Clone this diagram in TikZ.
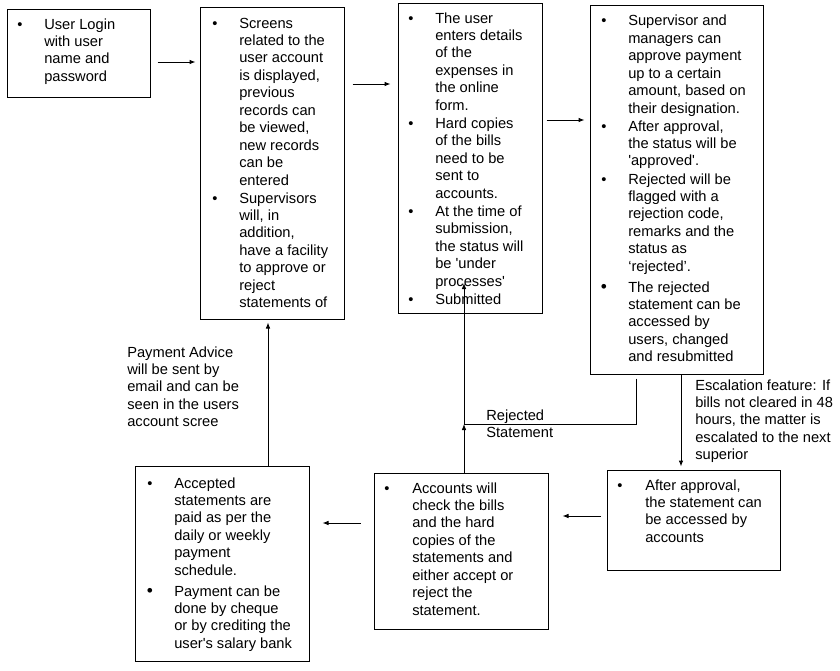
\documentclass[tikz,border=0pt]{standalone}
\usepackage{fontspec}
\setmainfont{Liberation Sans}
\usetikzlibrary{fit,arrows.meta}
\newcommand{\lns}[1]{\begin{tabular}[t]{@{}l@{}}#1\end{tabular}}
\begin{document}
\begin{tikzpicture}[x=0.75pt,y=-0.75pt,
  box/.style={draw, line width=0.75pt, inner sep=0pt},
  txt/.style={anchor=base west, inner sep=0pt, font=\fontsize{11}{13.1}\selectfont},
  bul/.style={anchor=base, inner sep=0pt, font=\fontsize{11}{13.1}\selectfont},
  bigbul/.style={anchor=base, inner sep=0pt, font=\fontsize{13}{13.1}\selectfont},
  arr/.style={line width=0.75pt, -{Latex[length=4.5pt,width=3.5pt]}}]
\useasboundingbox (0,0) rectangle (840,671);
\fill[white] (0,0) rectangle (840,671);

% boxes
\node[box, fit={(7,9)(150,97)}] (b1) {};
\node[box, fit={(200,7)(344,319)}] (b2) {};
\node[box, fit={(398,3)(542,313)}] (b3) {};
\node[box, fit={(590,5)(763,374)}] (b4) {};
\node[box, fit={(607,470)(780,570)}] (b5) {};
\node[box, fit={(374,473)(548,629)}] (b6) {};
\node[box, fit={(135,466)(309,661)}] (b7) {};

% box 1
\node[bul] (b1u1) at (20,29) {•};
\node[txt] (b1t1) at (44,29) {\lns{User Login\\with user\\name and\\password}};

% box 2
\node[bul] (b2u1) at (215,28) {•};
\node[txt] (b2t1) at (239,28) {\lns{Screens\\related to the\\user account\\is displayed,\\previous\\records can\\be viewed,\\new records\\can be\\entered}};
\node[bul] (b2u2) at (215,203) {•};
\node[txt] (b2t2) at (239,203) {\lns{Supervisors\\will, in\\addition,\\have a facility\\to approve or\\reject\\statements of}};

% box 3
\node[bul] (b3u1) at (411,23) {•};
\node[txt] (b3t1) at (435,23) {\lns{The user\\enters details\\of the\\expenses in\\the online\\form.}};
\node[bul] (b3u2) at (411,128.5) {•};
\node[txt] (b3t2) at (435,128.5) {\lns{Hard copies\\of the bills\\need to be\\sent to\\accounts.}};
\node[bul] (b3u3) at (411,216.5) {•};
\node[txt] (b3t3) at (435,216.5) {\lns{At the time of\\submission,\\the status will\\be \textquotesingle under\\processes\textquotesingle}};
\node[bul] (b3u4) at (411,304.5) {•};
\node[txt] (b3t4) at (435,304.5) {Submitted};

% box 4
\node[bul] (b4u1) at (604,26) {•};
\node[txt] (b4t1) at (628,26) {\lns{Supervisor and\\managers can\\approve payment\\up to a certain\\amount, based on\\their designation.}};
\node[bul] (b4u2) at (604,131) {•};
\node[txt] (b4t2) at (628,131) {\lns{After approval,\\the status will be\\\textquotesingle approved\textquotesingle.}};
\node[bul] (b4u3) at (604,184) {•};
\node[txt] (b4t3) at (628,184) {\lns{Rejected will be\\flagged with a\\rejection code,\\remarks and the\\status as\\‘rejected’.}};
\node[bigbul] (b4u4) at (604,292) {•};
\node[txt] (b4t4) at (628,292) {\lns{The rejected\\statement can be\\accessed by\\users, changed\\and resubmitted}};

% box 5
\node[bul] (b5u1) at (620,490) {•};
\node[txt] (b5t1) at (645,490) {\lns{After approval,\\the statement can\\be accessed by\\accounts}};

% box 6
\node[bul] (b6u1) at (387,493) {•};
\node[txt] (b6t1) at (412,493) {\lns{Accounts will\\check the bills\\and the hard\\copies of the\\statements and\\either accept or\\reject the\\statement.}};

% box 7
\node[bul] (b7u1) at (150,488) {•};
\node[txt] (b7t1) at (174,488) {\lns{Accepted\\statements are\\paid as per the\\daily or weekly\\payment\\schedule.}};
\node[bigbul] (b7u2) at (150,596) {•};
\node[txt] (b7t2) at (174,596) {\lns{Payment can be\\done by cheque\\or by crediting the\\user\textquotesingle s salary bank}};

% free labels
\node[txt] (lpay) at (127,357) {\lns{Payment Advice\\will be sent by\\email and can be\\seen in the users\\account scree}};
\node[txt] (lrej) at (486,420) {\lns{Rejected\\Statement}};
\node[txt] (lesc) at (695,390) {\lns{Escalation feature: If\\bills not cleared in 48\\hours, the matter is\\escalated to the next\\superior}};

% connectors
\draw[arr, shorten <=5.25pt, shorten >=3pt] (b1.east |- 0,62) -- (b2.west |- 0,62);
\draw[arr, shorten <=6pt, shorten >=5.25pt] (b2.east |- 0,84) -- (b3.west |- 0,84);
\draw[arr, shorten <=3pt, shorten >=3.75pt] (b3.east |- 0,120) -- (b4.west |- 0,120);
\draw[arr, shorten >=2.25pt] (b4.south -| 681,0) -- (b5.north -| 681,0);
\draw[arr, shorten <=4.5pt, shorten >=10.5pt] (b5.west |- 0,516) -- (b6.east |- 0,516);
\draw[arr, shorten <=9.75pt, shorten >=9.75pt] (b6.west |- 0,523) -- (b7.east |- 0,523);
\draw[arr, shorten >=2.25pt] (b7.north -| 268,0) -- (b2.south -| 268,0);
\coordinate (j) at (464,424);
\coordinate (rt) at (464,283);
\draw[arr, shorten <=3pt] (b4.south -| 636,0) |- (j) -- (rt);
\draw[arr] (b6.north -| 464,0) -- (j);
\end{tikzpicture}
\end{document}
